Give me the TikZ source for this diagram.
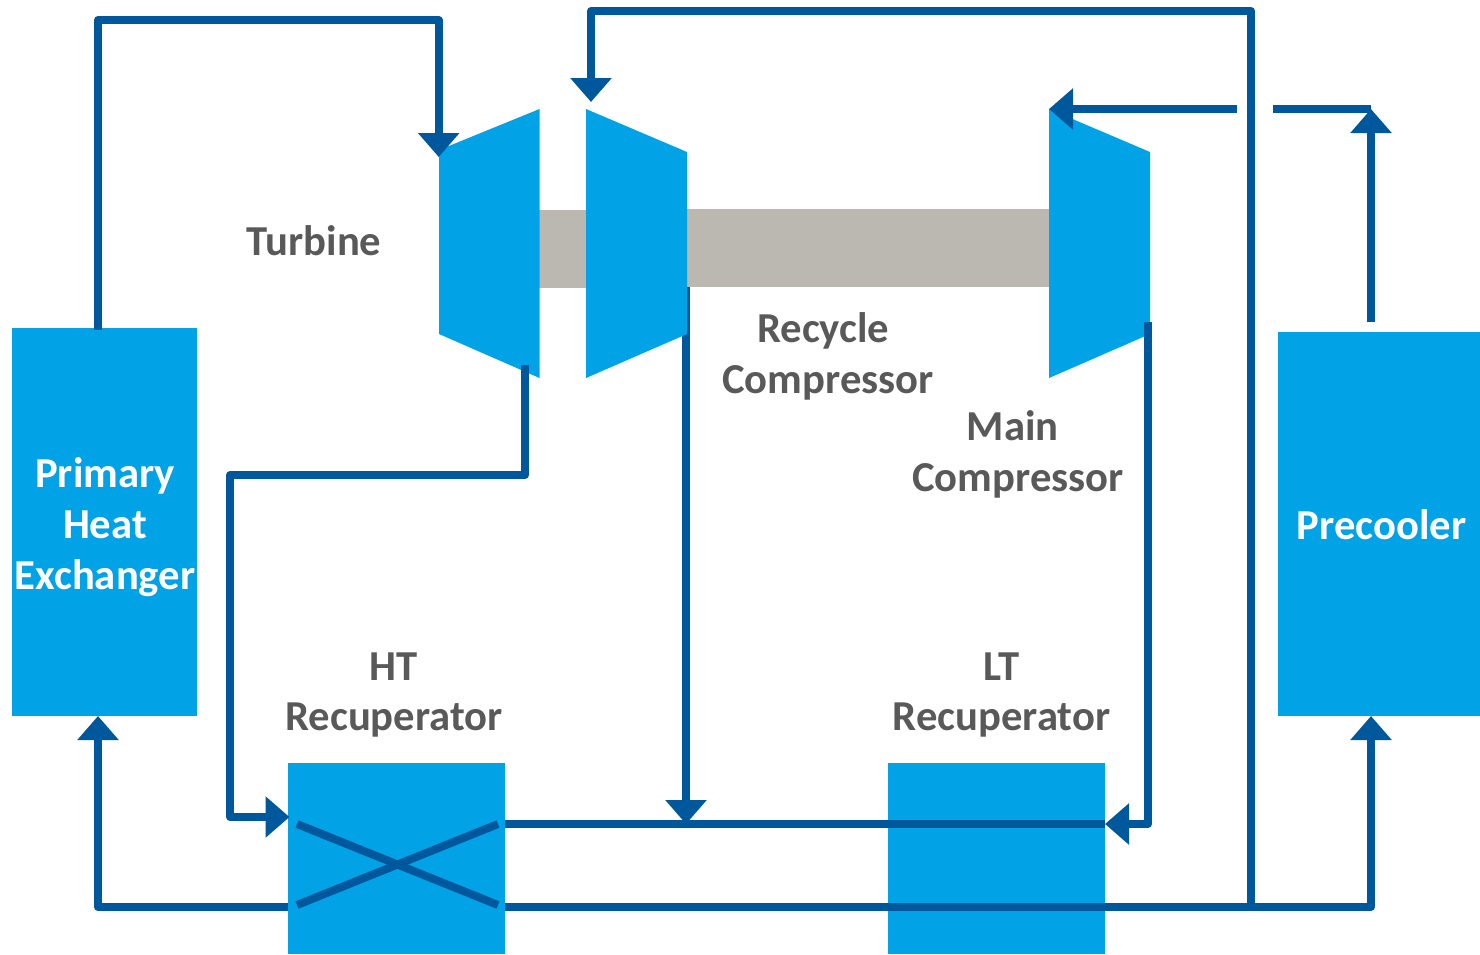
\documentclass[tikz,border=0pt]{standalone}
\usepackage{fontspec}
\setmainfont{Carlito}
\usetikzlibrary{arrows.meta}
\definecolor{boxblue}{HTML}{02A3E6}
\definecolor{flow}{HTML}{00589C}
\definecolor{shaft}{HTML}{BBB8B1}
\definecolor{lbl}{HTML}{595959}
\tikzset{
  unit/.style={fill=boxblue,draw=none,inner sep=0pt,outer sep=0pt},
  pipe/.style={draw=flow,line width=6pt,line join=round},
  flowarrow/.style={pipe,-{Triangle[length=18pt,width=30pt]}},
  lab/.style={font=\bfseries\fontsize{32pt}{38.2pt}\selectfont,text=lbl,align=center,inner sep=0pt},
  wlab/.style={lab,text=white},
}
\begin{document}
\begin{tikzpicture}[x=0.75pt,y=-0.75pt,line cap=butt]
\useasboundingbox (0,0) rectangle (1480,954);
% units
\node[unit,minimum width=138.75pt,minimum height=291pt] (phx) at (104.5,522) {};
\node[unit,minimum width=151.5pt,minimum height=288pt] (pre) at (1379,524) {};
\node[unit,minimum width=162.75pt,minimum height=143.25pt] (ht) at (396.5,858.5) {};
\node[unit,minimum width=162.75pt,minimum height=143.25pt] (lt) at (996.5,858.5) {};
% shaft
\fill[shaft] (539,210) rectangle (587,288);
\fill[shaft] (687,209) rectangle (1049,287);
% coordinates
\coordinate (phxtop) at (98,330);
\coordinate (turbin) at (438.7,157);
\coordinate (turbout) at (525,365);
\coordinate (htin) at (289.5,817);
\coordinate (rcin) at (591,102);
\coordinate (rcout) at (686,287);
\coordinate (junc) at (686,824);
\coordinate (mcin) at (1049,109);
\coordinate (mcout) at (1148,322);
\coordinate (ltin) at (1105,824);
\coordinate (htr) at (505,824);
\coordinate (phxin) at (98,716);
\coordinate (htl) at (288,907);
\coordinate (preR) at (1371,716);
\coordinate (htrb) at (505,907);
\coordinate (split) at (1251,907);
\coordinate (pretop) at (1371,322);
\coordinate (gapR) at (1273,109);
\coordinate (gapL) at (1237,109);
\coordinate (preHead) at (1371,109);
% recycle outlet runs behind the compressor
\draw[flowarrow] (rcout) -- (junc);
% turbomachines
\fill[boxblue] (439,150) -- (539.5,109) -- (539.5,378) -- (439,334) -- cycle;
\fill[boxblue] (586,109) -- (687,152) -- (687,334) -- (586,378) -- cycle;
\fill[boxblue] (1049,109) -- (1150,152) -- (1150,334) -- (1049,378) -- cycle;
% pipes
\draw[flowarrow] (phxtop) |- (438.7,20) -- (turbin);
\draw[flowarrow] (turbout) |- (230,475) |- (htin);
\draw[flowarrow] (split) |- (591,11) -- (rcin);
\draw[flowarrow] (mcout) |- (ltin);
\draw[pipe] (htr) -- (ltin);
\draw[flowarrow] (gapL) -- (mcin);
\draw[pipe] (gapR) -- (preHead);
\draw[flowarrow] (pretop) -- (preHead);
\draw[flowarrow] (htl) -| (phxin);
\draw[flowarrow] (htrb) -| (preR);
% X
\draw[draw=flow,line width=6pt] (297,824) -- (498,905);
\draw[draw=flow,line width=6pt] (297,905) -- (498,824);
% labels
\node[lab] (tl) at (314,241) {Turbine};
\node[lab] (rl) at (828,356) {Recycle\hspace*{7pt}\\Compressor};
\node[lab] (ml) at (1018,454) {Main\hspace*{8pt}\\Compressor};
\node[lab] (hl) at (394,695) {HT\\Recuperator};
\node[lab] (ll) at (1001.5,695) {LT\\Recuperator};
\node[wlab] (pl) at (105,527) {Primary\\Heat\\Exchanger};
\node[wlab] (prl) at (1381.5,525) {Precooler};
\end{tikzpicture}
\end{document}
